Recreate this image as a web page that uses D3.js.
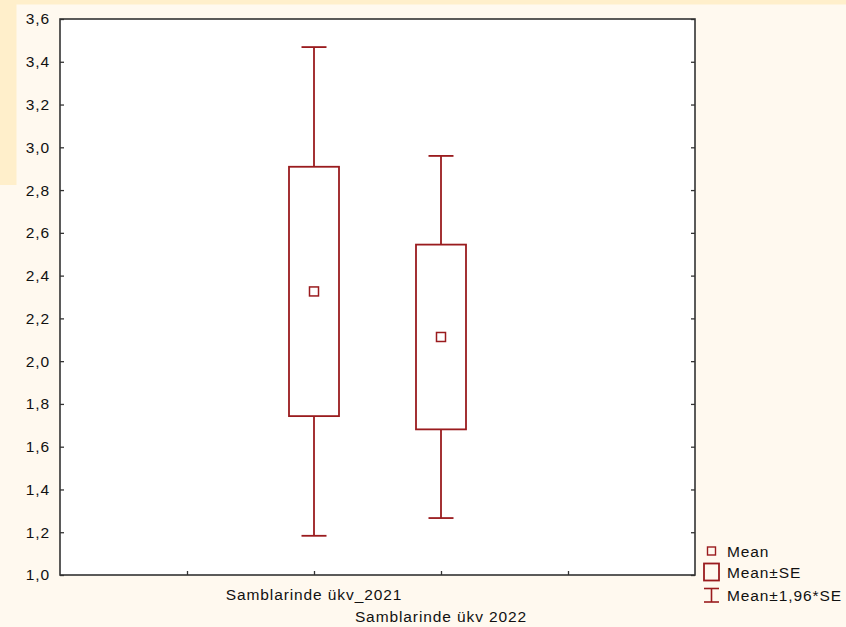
<!DOCTYPE html>
<html>
<head>
<meta charset="utf-8">
<script src="https://cdn.jsdelivr.net/npm/d3@7"></script>
<style>
  html, body { margin: 0; padding: 0; background: #FFF9EF; }
  svg { display: block; font-family: "Liberation Sans", Arial, sans-serif; }
  svg text { letter-spacing: 0.9px; }
</style>
</head>
<body>
<svg id="chart" width="846" height="627"></svg>
<script>
// Categories and their summary statistics (mean and standard error)
const categories = ["Samblarinde ükv_2021", "Samblarinde ükv 2022"];
const means = [2.326, 2.113];
const stdErrors = [0.583, 0.432];
const yTicks = [1.0, 1.2, 1.4, 1.6, 1.8, 2.0, 2.2, 2.4, 2.6, 2.8, 3.0, 3.2, 3.4, 3.6];
const xTicks = [1, 2, 3, 4];
const legendLabels = ["Mean", "Mean±SE", "Mean±1,96*SE"];

const W = 846, H = 627;
const plot = { left: 60, right: 695, top: 19, bottom: 575 };
const red = "#9A1B1E";
const axisColor = "#333333";
const fontSize = 15.5;

const svg = d3.select("#chart");

// page background bands
svg.append("rect").attr("x", 0).attr("y", 0).attr("width", W).attr("height", H).attr("fill", "#FFF9EF");
svg.append("rect").attr("x", 0).attr("y", 0).attr("width", W).attr("height", 4.5).attr("fill", "#FFEFCB");
svg.append("rect").attr("x", 0).attr("y", 0).attr("width", 16.5).attr("height", 185).attr("fill", "#FFEFCB");

const x = d3.scaleLinear().domain([0, 5]).range([plot.left, plot.right]);
const y = d3.scaleLinear().domain([1.0, 3.6]).range([plot.bottom, plot.top]);
const fmt = d => d3.format(".1f")(d).replace(".", ",");

// plot area
svg.append("rect")
  .attr("x", plot.left).attr("y", plot.top)
  .attr("width", plot.right - plot.left).attr("height", plot.bottom - plot.top)
  .attr("fill", "#ffffff");

// axes with inward ticks
const leftAxis = svg.append("g").attr("transform", `translate(${plot.left},0)`)
  .call(d3.axisLeft(y).tickValues(yTicks).tickSizeInner(-4).tickSizeOuter(0).tickPadding(10).tickFormat(fmt));
const rightAxis = svg.append("g").attr("transform", `translate(${plot.right},0)`)
  .call(d3.axisRight(y).tickValues(yTicks).tickSizeInner(-4).tickSizeOuter(0).tickFormat(""));
const bottomAxis = svg.append("g").attr("transform", `translate(0,${plot.bottom})`)
  .call(d3.axisBottom(x).tickValues(xTicks).tickSizeInner(-4).tickSizeOuter(0).tickFormat(""));

[leftAxis, rightAxis, bottomAxis].forEach(g => {
  g.select(".domain").remove();
  g.selectAll(".tick line").attr("stroke", axisColor).attr("stroke-width", 1.3);
});
leftAxis.selectAll(".tick text")
  .attr("fill", "#111").attr("font-size", fontSize)
  .attr("font-family", "'Liberation Sans', Arial, sans-serif");

// frame
svg.append("rect")
  .attr("x", plot.left).attr("y", plot.top)
  .attr("width", plot.right - plot.left).attr("height", plot.bottom - plot.top)
  .attr("fill", "none").attr("stroke", axisColor).attr("stroke-width", 1.6);

// category labels, staggered
const catPos = [2, 3];
svg.append("g").selectAll("text").data(categories).join("text")
  .attr("x", (d, i) => x(catPos[i]))
  .attr("y", (d, i) => i === 0 ? 600 : 622)
  .attr("text-anchor", "middle")
  .attr("font-size", fontSize).attr("fill", "#111")
  .text(d => d);

// boxes: mean ± SE, whiskers: mean ± 1.96*SE, marker: mean
const boxHalf = 25, capHalf = 12.5, markHalf = 4.5;
const groups = svg.append("g").selectAll("g").data(means).join("g");

groups.each(function (m, i) {
  const g = d3.select(this);
  const cx = x(catPos[i]);
  const se = stdErrors[i];
  const hi = m + 1.96 * se, lo = m - 1.96 * se;
  const bHi = m + se, bLo = m - se;

  g.append("line").attr("x1", cx).attr("x2", cx).attr("y1", y(hi)).attr("y2", y(bHi))
    .attr("stroke", red).attr("stroke-width", 1.8);
  g.append("line").attr("x1", cx).attr("x2", cx).attr("y1", y(bLo)).attr("y2", y(lo))
    .attr("stroke", red).attr("stroke-width", 1.8);
  g.append("line").attr("x1", cx - capHalf).attr("x2", cx + capHalf).attr("y1", y(hi)).attr("y2", y(hi))
    .attr("stroke", red).attr("stroke-width", 1.8);
  g.append("line").attr("x1", cx - capHalf).attr("x2", cx + capHalf).attr("y1", y(lo)).attr("y2", y(lo))
    .attr("stroke", red).attr("stroke-width", 1.8);
  g.append("rect").attr("x", cx - boxHalf).attr("y", y(bHi))
    .attr("width", boxHalf * 2).attr("height", y(bLo) - y(bHi))
    .attr("fill", "none").attr("stroke", red).attr("stroke-width", 1.8);
  g.append("rect").attr("x", cx - markHalf).attr("y", y(m) - markHalf)
    .attr("width", markHalf * 2).attr("height", markHalf * 2)
    .attr("fill", "none").attr("stroke", red).attr("stroke-width", 1.5);
});

// legend
const lg = svg.append("g");
const lx = 711.5;
lg.append("rect").attr("x", lx - 4).attr("y", 547).attr("width", 8).attr("height", 8)
  .attr("fill", "none").attr("stroke", red).attr("stroke-width", 1.4);
lg.append("rect").attr("x", lx - 7.5).attr("y", 563.5).attr("width", 15).attr("height", 17)
  .attr("fill", "none").attr("stroke", red).attr("stroke-width", 1.8);
lg.append("line").attr("x1", lx - 7.5).attr("x2", lx + 7.5).attr("y1", 588.5).attr("y2", 588.5)
  .attr("stroke", red).attr("stroke-width", 1.6);
lg.append("line").attr("x1", lx).attr("x2", lx).attr("y1", 588.5).attr("y2", 602)
  .attr("stroke", red).attr("stroke-width", 1.6);
lg.append("line").attr("x1", lx - 7.5).attr("x2", lx + 7.5).attr("y1", 602).attr("y2", 602)
  .attr("stroke", red).attr("stroke-width", 1.6);
lg.selectAll("text").data(legendLabels).join("text")
  .attr("x", 727)
  .attr("y", (d, i) => [557, 578, 601][i])
  .attr("font-size", fontSize).attr("fill", "#111")
  .text(d => d);
</script>
</body>
</html>
